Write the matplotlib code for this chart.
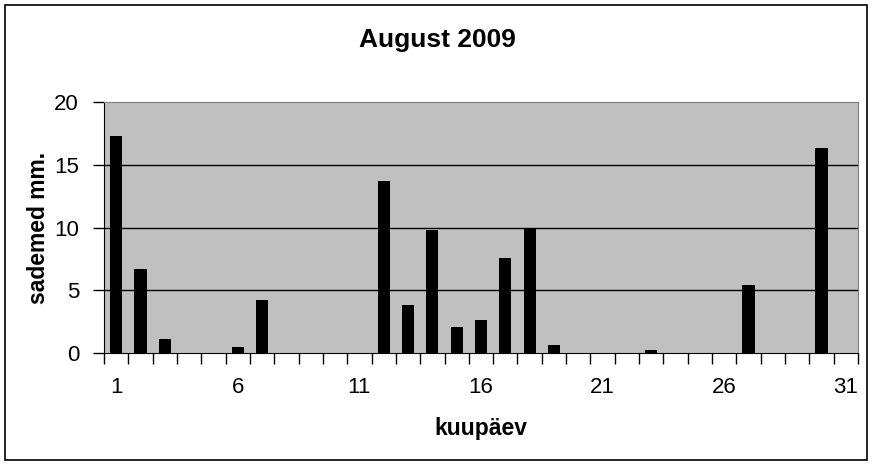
import numpy as np
import matplotlib
matplotlib.use("Agg")
import matplotlib.pyplot as plt
from matplotlib.patches import Rectangle

# August 2009 daily precipitation (mm)
days = list(range(1, 32))
precip = [17.3, 6.7, 1.1, 0, 0, 0.5, 4.2, 0, 0, 0,
          0, 13.7, 3.8, 9.8, 2.1, 2.6, 7.6, 10.0, 0.6, 0,
          0, 0, 0.2, 0, 0, 0, 5.4, 0, 0, 16.3, 0]
xtick_labels = ["1", "6", "11", "16", "21", "26", "31"]
yticks = [0, 5, 10, 15, 20]

plt.rcParams['font.family'] = ['Liberation Sans', 'DejaVu Sans']

fig = plt.figure(figsize=(8.74, 4.66), dpi=100)
ax = fig.add_axes([104 / 874, 113 / 466, 754 / 874, 251 / 466])

ax.set_facecolor("#C0C0C0")
ax.bar(days, precip, width=0.5, color="black", zorder=3)

ax.set_xlim(0.5, 31.5)
ax.set_ylim(0, 20)

# labels every 5 days, tick marks between days
ax.set_xticks([int(t) for t in xtick_labels])
ax.set_xticklabels(xtick_labels, fontsize=16)
ax.set_xticks(np.arange(0.5, 32, 1), minor=True)
ax.tick_params(axis="x", which="major", length=0, pad=17)
ax.tick_params(axis="x", which="minor", length=8, width=1, color="black",
               direction="out")

ax.set_yticks(yticks)
ax.set_yticklabels([str(v) for v in yticks], fontsize=16)
ax.tick_params(axis="y", length=8, width=1, direction="out", pad=10)

for v in yticks[1:-1]:
    ax.axhline(v, color="black", linewidth=1, zorder=2)

ax.spines["left"].set_color("black")
ax.spines["bottom"].set_color("black")
ax.spines["top"].set_color("#808080")
ax.spines["right"].set_color("#808080")

fig.text(0.5, 1 - 40 / 466, "August 2009", fontsize=19, fontweight="bold",
         ha="center", va="center")
ax.set_xlabel("kuupäev", fontsize=16.5, fontweight="bold", labelpad=14)
ax.set_ylabel("sademed mm.", fontsize=16.5, fontweight="bold", labelpad=3)

# outer chart border
fig.patches.append(Rectangle((5 / 874, 6 / 466), 862 / 874, 455 / 466,
                             transform=fig.transFigure, fill=False,
                             edgecolor="black", linewidth=1.2))

fig.savefig("out.png", dpi=100)
